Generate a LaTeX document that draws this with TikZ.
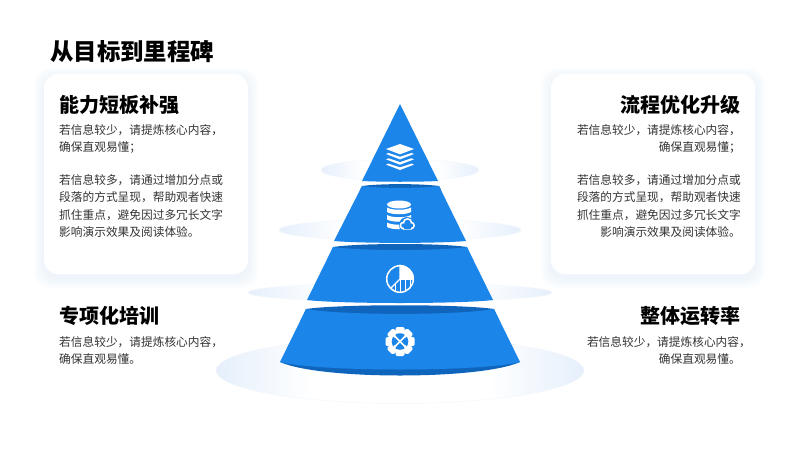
\documentclass[tikz,border=0pt]{standalone}
\usepackage{fontspec}
\setmainfont{Noto Sans CJK SC}
\definecolor{layerblue}{HTML}{1C85EA}
\definecolor{layerdark}{HTML}{0F65BC}
\definecolor{discblue}{HTML}{E5EFFB}
\definecolor{discedge}{HTML}{F4F8FD}
\definecolor{cardglow}{HTML}{DCE9FB}
\definecolor{bodygrey}{HTML}{333333}
\pgfdeclarehorizontalshading{discshade}{100bp}{color(0bp)=(discblue); color(25bp)=(discblue); color(38bp)=(white); color(62bp)=(white); color(75bp)=(discblue); color(100bp)=(discblue)}
\tikzset{
  layer/.style={fill=layerblue},
  rim/.style={fill=layerdark},
  disc/.style={shading=discshade, draw=discedge, line width=.5},
  cardglowbox/.style={fill=cardglow, opacity=.09, rounded corners=16},
  card/.style={fill=white, rounded corners=14},
  titletext/.style={anchor=west, inner sep=0, font=\fontsize{23.4}{28}\selectfont\bfseries, text=black},
  heading/.style={inner sep=0, font=\fontsize{20}{24}\selectfont\bfseries, text=black},
  bodytext/.style={inner sep=0, text=bodygrey, font=\fontsize{11.7}{17.3}\selectfont},
  iconline/.style={draw=white, line width=1.2, line join=round, line cap=round}
}
\begin{document}
\begin{tikzpicture}[x=1pt,y=-1pt]
        \useasboundingbox (0,0) rectangle (800,450);
        \fill[white] (0,0) rectangle (800,450);

        % cards
        \foreach \s in {10,8,6,4,2} {
            \fill[cardglowbox] (44-\s,74-\s+4) rectangle (248+\s,274+\s+4);
            \fill[cardglowbox] (551-\s,74-\s+4) rectangle (755+\s,274+\s+4);
        }
        \fill[card] (44,74) rectangle (248,274);
        \fill[card] (551,74) rectangle (755,274);

        % discs
        \path[disc] (400,370.5) ellipse [x radius=184, y radius=33];
        \path[disc] (400,292.5) ellipse [x radius=152, y radius=9.5];
        \path[disc] (400,230) ellipse [x radius=121, y radius=11];
        \path[disc] (400,170) ellipse [x radius=79, y radius=11];

        % pyramid
        \fill[layer] (400,104) -- (438,181) .. controls (420,182) and (380,182) .. (362,181) -- cycle;

        \fill[rim] (362,186) .. controls (380,183.5) and (420,183.5) .. (439,186) -- (441,190) -- (360,190) -- cycle;
        \fill[layer] (362,186) .. controls (380,188.5) and (420,188.5) .. (439,186) -- (466,241) .. controls (440,243.5) and (360,243.5) .. (334,241) -- cycle;

        \fill[rim] (333,247) .. controls (360,243) and (440,243) .. (467,247) -- (469,252) -- (331,252) -- cycle;
        \fill[layer] (333,247) .. controls (360,251) and (440,251) .. (467,247) -- (493,300) .. controls (460,304) and (340,304) .. (307,300) -- cycle;

        \fill[rim] (306,309) .. controls (340,304) and (460,304) .. (494,309) -- (497,316) -- (303,316) -- cycle;
        \fill[rim] (280,362) .. controls (320,380) and (480,380) .. (520,362) -- (510,358) -- (290,358) -- cycle;
        \fill[layer] (306,309) .. controls (340,315.5) and (460,315.5) .. (494,309) -- (520,362) .. controls (480,372) and (320,372) .. (280,362) -- cycle;

        % layers icon
        \fill[white] (400,144) -- (414,149) -- (400,154.3) -- (386,149) -- cycle;
        \foreach \d in {0,5.3,10.6} {
            \fill[white] (386,154+\d) -- (388.5,153+\d) -- (400,156.8+\d) -- (411.5,153+\d) -- (414,154+\d) -- (400,159.4+\d) -- cycle;
        }

        % database icon
        \fill[white] (399,204.5) ellipse [x radius=12, y radius=4];
        \foreach \d in {0,7.5,15} {
            \fill[white] (387,207.5+\d) .. controls (392,210.5+\d) and (406,210.5+\d) .. (411,207.5+\d) -- (411,212+\d) .. controls (406,215+\d) and (392,215+\d) .. (387,212+\d) -- cycle;
        }
        \fill[layerblue] (407,225) circle [radius=8];
        \foreach \x/\y/\r in {403.5/225.5/3, 407.5/223/4, 411/225.5/3} {
            \fill[white] (\x,\y) circle [radius=\r+1];
        }
        \fill[white, rounded corners=1] (402,224) rectangle (412.5,229.7);
        \foreach \x/\y/\r in {403.5/225.5/2.2, 407.5/223/3.2, 411/225.5/2.2} {
            \fill[layerblue] (\x,\y) circle [radius=\r];
        }
        \fill[layerblue] (403.5,224) rectangle (411,228.6);

        % pie icon
        \fill[white] (400,265) arc [start angle=-90, end angle=0, radius=14] -- (400,279) -- cycle;
        \draw[iconline, line width=1.5] (400,279) circle [radius=13.3];
        \draw[iconline] (400,265) -- (400,279) -- (390.5,288.5);
        \foreach \x/\a/\b in {395/284/291, 400/279/292, 405/279/291, 410/279/288} {
            \draw[iconline, line width=.9, line cap=butt] (\x,\a) -- (\x,\b);
        }
        \draw[iconline, line width=1] (400,279) -- (413,279);

        % gear icon
        \foreach \a in {0,45,...,315} {
            \fill[white, rotate around={\a:(400,341.5)}, rounded corners=1.5] (395.5,327) rectangle (404.5,335);
        }
        \fill[white] (400,341.5) circle [radius=12];
        \fill[layerblue] (400,341.5) circle [radius=8.3];
        \draw[iconline, line width=1.5] (395,336.5) -- (405,346.5);
        \draw[iconline, line width=1.5] (405,336.5) -- (395,346.5);
        \foreach \x/\y in {394.7/336.2, 405.3/346.8, 405.3/336.2, 394.7/346.8} {
            \fill[white] (\x,\y) circle [radius=1.7];
        }

        % texts
        \node[titletext] (maintitle) at (50,52) {从目标到里程碑};

        \node[heading, anchor=west] (leftonetitle) at (59,105) {能力短板补强};
        \node[bodytext, anchor=north west, align=left] (leftonetext) at (59,124) {若信息较少，请提炼核心内容，\\确保直观易懂；\\[15.7pt]若信息较多，请通过增加分点或\\段落的方式呈现，帮助观者快速\\抓住重点，避免因过多冗长文字\\影响演示效果及阅读体验。};

        \node[heading, anchor=west] (lefttwotitle) at (59,316) {专项化培训};
        \node[bodytext, anchor=north west, align=left] (lefttwotext) at (59,336) {若信息较少，请提炼核心内容，\\确保直观易懂。};

        \node[heading, anchor=east] (rightonetitle) at (741,105) {流程优化升级};
        \node[bodytext, anchor=north east, align=right] (rightonetext) at (741,124) {若信息较少，请提炼核心内容，\\确保直观易懂；\\[15.7pt]若信息较多，请通过增加分点或\\段落的方式呈现，帮助观者快速\\抓住重点，避免因过多冗长文字\\影响演示效果及阅读体验。};

        \node[heading, anchor=east] (righttwotitle) at (741,316) {整体运转率};
        \node[bodytext, anchor=north east, align=right] (righttwotext) at (751,336) {若信息较少，请提炼核心内容，\\确保直观易懂。\kern10pt};
    \end{tikzpicture}
\end{document}
